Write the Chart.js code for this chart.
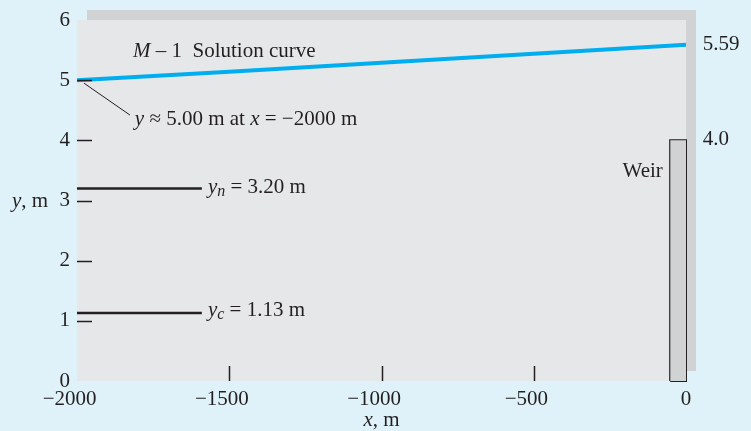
<!DOCTYPE html>
<html>
<head>
<meta charset="utf-8">
<script src="https://cdn.jsdelivr.net/npm/chart.js@4.4.1/dist/chart.umd.min.js"></script>
<style>
html, body { margin: 0; padding: 0; background: #dff2fa; }
</style>
</head>
<body>
<canvas id="chart" width="751" height="431"></canvas>
<script>
// M-1 solution curve
const curveX = [-2000, -1500, -1000, -500, 0];
const curveY = [5.00, 5.14, 5.29, 5.44, 5.59];

// Normal and critical depth lines
const depthX = [-2000, -1590];
const normalDepth = [3.20, 3.20];
const criticalDepth = [1.13, 1.13];

// Weir: top edge (filled down to 0) and outline
const weirTopX = [-52, 0];
const weirTopY = [4.0, 4.0];
const weirX = [-52, -52, 0, 0, -52];
const weirY = [0, 4.0, 4.0, 0, 0];

// Inner tick marks
const xTickMarks = [-1500, -1000, -500];
const yTickMarks = [1, 2, 3, 4, 5];

const SERIF = '"Liberation Serif", "DejaVu Serif", serif';
const INK = '#231f20';
const FS = 21;

const toPoints = (xs, ys) => xs.map((x, i) => ({ x: x, y: ys[i] }));

// Draw text made of pieces (italic / subscript)
function richText(ctx, parts, x, y, align) {
    const fontOf = p => (p.i ? 'italic ' : '') + (p.sub ? Math.round(FS * 0.75) : FS) + 'px ' + SERIF;
    const widths = parts.map(p => {
        ctx.font = fontOf(p);
        return ctx.measureText(p.t).width;
    });
    const total = widths.reduce((a, b) => a + b, 0);
    let cx = align === 'right' ? x - total : align === 'center' ? x - total / 2 : x;
    ctx.textAlign = 'left';
    ctx.textBaseline = 'middle';
    ctx.fillStyle = INK;
    parts.forEach((p, k) => {
        ctx.font = fontOf(p);
        ctx.fillText(p.t, cx, p.sub ? y + 5 : y);
        cx += widths[k];
    });
}

const backdrop = {
    id: 'backdrop',
    beforeDraw(chart) {
        const { ctx, chartArea: a } = chart;
        ctx.save();
        ctx.fillStyle = '#d1d2d4';
        ctx.fillRect(a.left + 10, a.top - 10, a.right - a.left, a.bottom - a.top);
        ctx.fillStyle = '#e6e7e9';
        ctx.fillRect(a.left, a.top, a.right - a.left, a.bottom - a.top);
        ctx.restore();
    }
};

const notes = {
    id: 'notes',
    afterDatasetsDraw(chart) {
        const { ctx, scales: { x, y } } = chart;
        ctx.save();
        ctx.strokeStyle = INK;
        ctx.lineWidth = 1.5;
        // tick marks inside the plot
        yTickMarks.forEach(v => {
            const py = Math.round(y.getPixelForValue(v)) + 0.5;
            ctx.beginPath();
            ctx.moveTo(x.left, py);
            ctx.lineTo(x.left + 15, py);
            ctx.stroke();
        });
        xTickMarks.forEach(v => {
            const px = Math.round(x.getPixelForValue(v)) + 0.5;
            ctx.beginPath();
            ctx.moveTo(px, y.bottom);
            ctx.lineTo(px, y.bottom - 15);
            ctx.stroke();
        });
        // leader line to the start of the curve
        ctx.lineWidth = 1;
        ctx.beginPath();
        ctx.moveTo(x.getPixelForValue(-1977), y.getPixelForValue(4.95));
        ctx.lineTo(x.getPixelForValue(-1826), y.getPixelForValue(4.42));
        ctx.stroke();

        richText(ctx, [{ t: 'M', i: true }, { t: ' \u2013 1  Solution curve' }],
            x.getPixelForValue(-1816), y.getPixelForValue(5.47));
        richText(ctx, [{ t: 'y', i: true }, { t: ' \u2248 5.00 m at ' }, { t: 'x', i: true }, { t: ' = \u22122000 m' }],
            x.getPixelForValue(-1810), y.getPixelForValue(4.34));
        richText(ctx, [{ t: 'y', i: true }, { t: 'n', i: true, sub: true }, { t: ' = 3.20 m' }],
            x.getPixelForValue(-1570), y.getPixelForValue(3.22));
        richText(ctx, [{ t: 'y', i: true }, { t: 'c', i: true, sub: true }, { t: ' = 1.13 m' }],
            x.getPixelForValue(-1570), y.getPixelForValue(1.18));
        richText(ctx, [{ t: 'Weir' }], x.getPixelForValue(-76), y.getPixelForValue(3.49), 'right');
        richText(ctx, [{ t: '5.59' }], x.getPixelForValue(55), y.getPixelForValue(5.60));
        richText(ctx, [{ t: '4.0' }], x.getPixelForValue(55), y.getPixelForValue(4.02));
        // axis titles
        richText(ctx, [{ t: 'y', i: true }, { t: ', m' }], 12, y.getPixelForValue(2.99));
        richText(ctx, [{ t: 'x', i: true }, { t: ', m' }], x.getPixelForValue(-1000), 420, 'center');
        ctx.restore();
    }
};

new Chart(document.getElementById('chart'), {
    type: 'scatter',
    data: {
        datasets: [
            {
                data: toPoints(weirTopX, weirTopY),
                showLine: true,
                borderWidth: 0,
                backgroundColor: '#d1d2d4',
                fill: 'origin',
                pointRadius: 0,
                clip: false
            },
            {
                data: toPoints(weirX, weirY),
                showLine: true,
                borderColor: INK,
                borderWidth: 2,
                pointRadius: 0,
                clip: false
            },
            {
                data: toPoints(depthX, normalDepth),
                showLine: true,
                borderColor: INK,
                borderWidth: 2.5,
                pointRadius: 0
            },
            {
                data: toPoints(depthX, criticalDepth),
                showLine: true,
                borderColor: INK,
                borderWidth: 2.5,
                pointRadius: 0
            },
            {
                data: toPoints(curveX, curveY),
                showLine: true,
                borderColor: '#00aeef',
                borderWidth: 4,
                pointRadius: 0
            }
        ]
    },
    options: {
        responsive: false,
        animation: false,
        layout: { padding: { top: 20, right: 65, left: 0, bottom: 0 } },
        plugins: { legend: { display: false }, tooltip: { enabled: false } },
        scales: {
            x: {
                type: 'linear',
                min: -2000,
                max: 0,
                grid: { display: false, drawTicks: false },
                border: { display: false },
                ticks: {
                    stepSize: 500,
                    color: INK,
                    padding: 6,
                    font: { family: SERIF, size: FS },
                    // digits sit centred on the tick, the minus hangs to the left
                    callback: v => v < 0 ? '\u2212' + Math.abs(v) + '\u2002\u2009' : String(v)
                },
                afterFit(scale) { scale.height = 50; }
            },
            y: {
                min: 0,
                max: 6,
                grid: { display: false, drawTicks: false },
                border: { display: false },
                ticks: {
                    stepSize: 1,
                    color: INK,
                    padding: 7,
                    font: { family: SERIF, size: FS }
                },
                afterFit(scale) { scale.width = 77; }
            }
        }
    },
    plugins: [backdrop, notes]
});
</script>
</body>
</html>
